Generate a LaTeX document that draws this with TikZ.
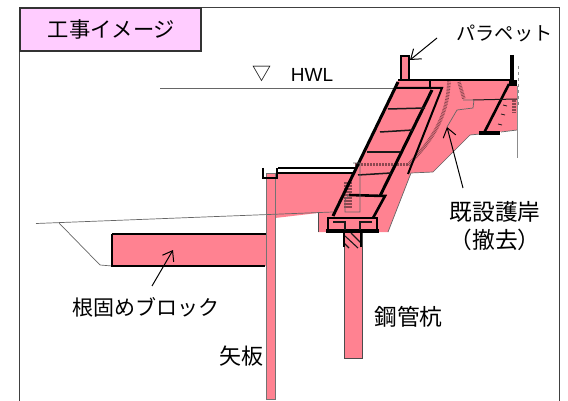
\documentclass[tikz,border=0pt]{standalone}
\usepackage{fontspec}
\usepackage{xcolor}
\setmainfont{Liberation Sans}
\newfontfamily\jpfont{Noto Sans CJK JP}
\usetikzlibrary{positioning, arrows.meta}
\definecolor{bodypink}{HTML}{FF8291}
\definecolor{titlepink}{HTML}{FFCCFF}
\tikzset{
	>={Straight Barb[length=9pt,width=13pt]}, % open arrow heads
	body/.style={fill=bodypink, draw=none}, % pink concrete
	heavy/.style={line width=2.6pt, black}, % thick outlines
	medium/.style={line width=1.5pt, black!90}, % rungs and inner lines
	fine/.style={line width=0.7pt, black!60}, % thin grey lines
	dotband/.style={line width=3.5pt, dash pattern=on 0.7pt off 0.8pt, bodypink!55!black}, % hatched band
	lead/.style={->, line width=1pt, black}, % leader arrows
	label/.style={font=\jpfont\fontsize{21}{24}\selectfont, inner sep=0pt, black},
	biglabel/.style={font=\jpfont\fontsize{22.7}{26}\selectfont, inner sep=0pt, black},
}
\begin{document}
\begin{tikzpicture}[x=1pt, y=-1pt]
	\useasboundingbox (0,0) rectangle (568,401);

	% Frame
	\draw[line width=1.2pt, black!75] (19.5,401) -- (19.5,7.5) -- (559.5,7.5) -- (559.5,401);
	\node[draw=black!80, line width=1.2pt, fill=titlepink, minimum width=181pt, minimum height=43pt, inner sep=0pt] (title) at (110.5,29.5) {};
	\node[label, font=\jpfont\fontsize{21.3}{24}\selectfont] (titletext) at (111.5,29.5) {工事イメージ};

	% Water level and ground
	\coordinate (hwlL) at (160,88);
	\coordinate (hwlR) at (398,88);
	\draw[fine] (hwlL) -- (hwlR);
	\node[font=\jpfont\fontsize{19}{22}\selectfont, inner sep=0pt] (hwlmark) at (262,74) {▽};
	\node[font=\fontsize{19}{22}\selectfont, inner sep=0pt] (hwl) at (312,75) {HWL};

	% Pink parts
	\fill[body] (398,80) -- (401,80) -- (401,56) -- (409,56) -- (409,80) -- (512,80) -- (517,86) -- (517,130) -- (470,135)
		-- (433,172) -- (411,173) -- (388,232) -- (318,232) -- (318,213) -- (275,218) -- (275,173) -- (353,173) -- cycle;
	\fill[body] (266.5,173) rectangle (275,399);
	\fill[body] (112,234) rectangle (266,266);
	\fill[body] (344,232) rectangle (362,358);

	% Hatched bands
	\draw[dotband] (449,80) .. controls (448,110) and (438,135) .. (408,165);
	\draw[dotband, line width=3pt] (408,165) -- (355,165);
	\draw[dotband] (459,82) -- (464,99);
	\draw[dotband, line width=4pt] (514,100) -- (514,113);
	\draw[dotband, line width=8pt] (348,182) -- (348,208);

	% Ground
	\draw[fine] (36,223.5) -- (333,212);
	\draw[fine] (59,223) -- (100,265) -- (112,266);
	\draw[fine, black!70] (318,213) -- (318,232);
	\draw[fine] (388,232) -- (411,173) -- (433,172) -- (470,135) -- (480,134);
	\draw[fine] (501,132) -- (517,130);

	% Sheet pile and block
	\draw[line width=0.8pt, black!55] (266.5,399) -- (266.5,173) -- (275,173) -- (275,399) -- cycle;
	\draw[heavy, line width=1.8pt] (112,234) -- (266,234);
	\draw[heavy] (265,266) -- (112,266) -- (112,234);
	\draw[heavy, line width=1.4pt] (263,168) -- (263,178) -- (277,178) -- (277,168);

	% Platform
	\draw[heavy, line width=1.6pt] (278,168) -- (355,168);
	\draw[heavy] (278,173) -- (353,173);

	% Steel pipe pile
	\draw[line width=1pt, black!70] (344,232) -- (344,358) -- (362,358) -- (362,232);
	\draw[medium, line width=1.1pt] (345,236) -- (358,248);
	\draw[medium, line width=1.1pt] (351,233) -- (361,243);
	\draw[medium, line width=1.1pt] (344,243) -- (349,248);
	\draw[heavy, line width=1.5pt] (344,247) -- (344,232);
	\draw[heavy, line width=1.5pt] (361,247) -- (361,232);

	% Footing
	\draw[heavy, line width=1.6pt] (328,229) -- (328,218) -- (377,218) -- (377,229);
	\draw[heavy, line width=3.2pt] (326,231) -- (379,231);
	\draw[medium] (333,222) -- (345,222) -- (345,230);
	\draw[medium] (372,222) -- (360,222) -- (360,230);

	% Revetment frame
	\draw[heavy, line width=3pt] (333,216) -- (398,82);
	\draw[heavy, line width=3pt] (380,196) -- (432,90);
	\draw[heavy] (349,195) -- (385,196) -- (373,218);
	\draw[heavy, line width=2pt] (408,174) -- (442,88) -- (396,88);
	\draw[heavy, line width=1.8pt] (398,80) -- (430,80) -- (430,88);
	\draw[medium] (388,109) -- (425,108);
	\draw[medium] (380,132) -- (413,130);
	\draw[medium] (367,152) -- (400,152);
	\draw[medium] (358,175) -- (391,173);
	\draw[fine] (353,163) -- (360,163) -- (360,212) -- (345,212) -- (345,200) -- (349,195);

	% Parapet
	\draw[heavy, line width=1.8pt] (401,80) -- (401,56) -- (409,56) -- (409,80);

	% Existing revetment
	\draw[heavy] (430,80) -- (512,80);
	\draw[heavy, line width=3.2pt] (512,55) -- (512,80);
	\fill[black] (509,80) rectangle (517,86);
	\draw[heavy] (509,84) -- (484,133);
	\draw[heavy, line width=3.4pt] (479,133) -- (500,133);
	\draw[medium, line width=1pt] (473,100) -- (517,99);
	\draw[fine] (457,110) -- (473,108) -- (474,100) -- (463,100);
	\draw[fine] (457,110) -- (447,127);
	\draw[fine, black!45] (517,86) -- (517,158);
	\draw[fine, black!45, dashed] (518,66) -- (518,106);
	\draw[medium, line width=0.8pt] (503,105) -- (507,106);
	\draw[medium, line width=0.8pt] (501,114) -- (505,115);
	\draw[medium, line width=0.8pt] (498,124) -- (502,125);

	% Labels
	\node[label, font=\jpfont\fontsize{19.2}{22}\selectfont] (parapet) at (504.5,33) {パラペット};
	\node[biglabel] (kisetsu) at (495,212) {既設護岸};
	\node[biglabel] (tekkyo) at (495,240) {（撤去）};
	\node[label] (netblock) at (145.5,307) {根固めブロック};
	\node[biglabel] (kanko) at (408.5,317) {鋼管杭};
	\node[biglabel, font=\jpfont\fontsize{22}{26}\selectfont] (yaita) at (241,356) {矢板};

	% Arrows
	\coordinate (parapetTip) at (410,60);
	\coordinate (parapetTail) at (437,38);
	\coordinate (kisetsuTip) at (447,127);
	\coordinate (kisetsuTail) at (463,188);
	\coordinate (blockTip) at (173,250);
	\coordinate (blockTail) at (152,286);
	\draw[lead] (parapetTail) -- (parapetTip);
	\draw[lead] (kisetsuTail) -- (kisetsuTip);
	\draw[lead] (blockTail) -- (blockTip);
\end{tikzpicture}
\end{document}
